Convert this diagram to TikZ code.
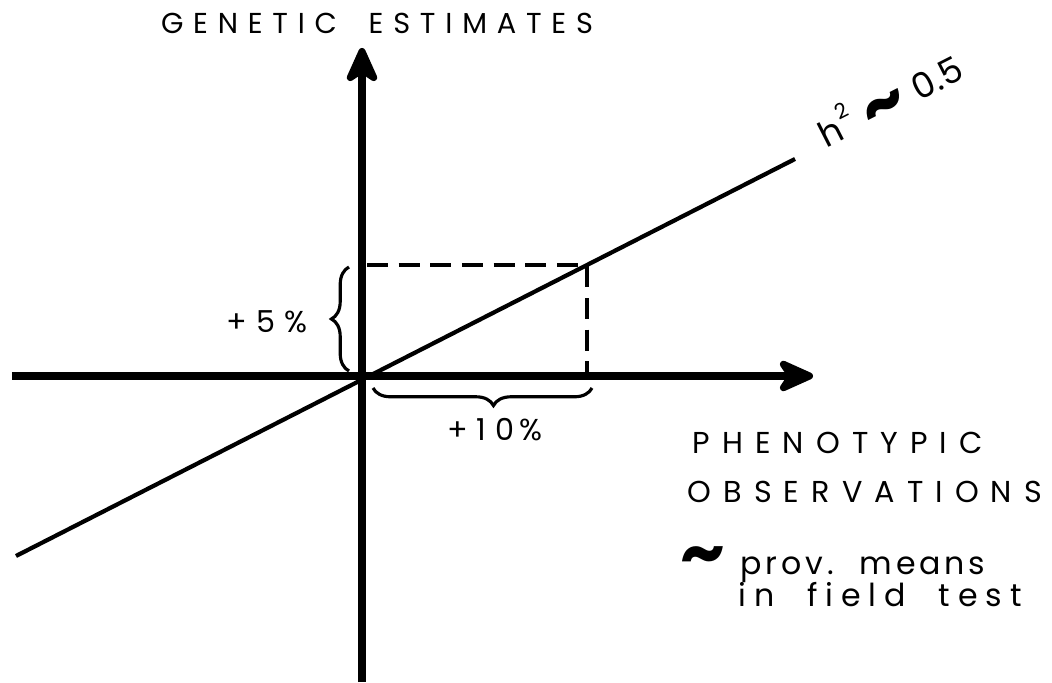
\documentclass[tikz,border=0pt]{standalone}
\usepackage{fontspec}
\setmainfont{Poppins}
\newfontfamily\spacedfont[LetterSpace=40]{Poppins}
\newfontfamily\headfont[LetterSpace=34]{Poppins}
\newfontfamily\lowfont[LetterSpace=12, WordSpace=1.8]{Poppins}
\newfontfamily\widelowfont[LetterSpace=25, WordSpace=2]{Poppins}
\newfontfamily\pctfont[LetterSpace=30]{Poppins}
\usetikzlibrary{arrows.meta, positioning, decorations.pathreplacing}

\tikzset{
  axisline/.style={line width=2pt, -{Stealth[length=4.4mm, width=3.9mm, inset=1.3mm, round]}},
  fitline/.style={line width=1.2pt},
  guideline/.style={line width=0.9pt, dash pattern=on 6pt off 3pt},
  bracemark/.style={decorate, decoration={brace, amplitude=5pt}, line width=0.9pt},
  caplabel/.style={font=\spacedfont\fontsize{8.6}{10}\selectfont, inner sep=0pt},
  headlabel/.style={font=\headfont\fontsize{8.2}{10}\selectfont, inner sep=0pt},
  lowlabel/.style={font=\lowfont\fontsize{9}{11}\selectfont, inner sep=0pt},
  pctlabel/.style={font=\pctfont\fontsize{8.6}{10}\selectfont, inner sep=0pt},
}
\newcommand{\bigtilde}{{\fontsize{20}{20}\bfseries\raisebox{-0.12em}{\textasciitilde}}}

\begin{document}
\begin{tikzpicture}
  \useasboundingbox (-3.62,-3.06) rectangle (6.90,3.76);
  % axes and the regression line
  \coordinate (origin) at (0,0);
  \coordinate (xstart) at (-3.50,0);
  \coordinate (xend) at (4.51,0);
  \coordinate (ybottom) at (0,-3.06);
  \coordinate (ytop) at (0,3.28);
  \coordinate (lowend) at (-3.46,-1.80);
  \coordinate (highend) at (4.33,2.17);
  \coordinate (corner) at (2.25,1.11);
  \draw[axisline] (xstart) -- (xend);
  \draw[axisline] (ybottom) -- (ytop);
  \draw[fitline] (lowend) -- (highend);
  \draw[guideline] ([xshift=0.5mm]origin |- corner) -- (corner) -- (corner |- origin);

  % braces
  \coordinate (vbrlow) at (-0.13,0.05);
  \coordinate (vbrhigh) at (-0.13,1.09);
  \coordinate (hbrright) at (2.30,-0.12);
  \coordinate (hbrleft) at (0.11,-0.12);
  \draw[bracemark] (vbrlow) -- (vbrhigh);
  \draw[bracemark, decoration={aspect=0.45}] (hbrright) -- (hbrleft);
  \node[pctlabel] (fivepct) at (-0.95,0.54) {+5\%};
  \node[pctlabel] (tenpct) at (1.33,-0.54) {+10\,\%};

  \node[headlabel] (genetic) at (0.15,3.53) {GENETIC\hspace{1.1em}ESTIMATES};
  \node[font=\fontsize{10}{12}\selectfont, inner sep=0pt, rotate=27, anchor=base west]
        (heritability) at (4.64,2.27)
        {h\hspace{0.05em}\raisebox{0.55em}{\fontsize{6}{6}\selectfont 2}\,\,\bigtilde\,\,0.5};
  \node[caplabel, anchor=west] (phenotypic) at (3.30,-0.67) {PHENOTYPIC};
  \node[caplabel, anchor=west] (observations) at (3.25,-1.16) {OBSERVATIONS};
  \node[inner sep=0pt] (approx) at (3.41,-1.86) {\bigtilde};
  \node[lowlabel, anchor=base west] (provmeans) at (3.78,-1.99) {prov. means};
  \node[lowlabel, font=\widelowfont\fontsize{9}{11}\selectfont, anchor=base west]
        (fieldtest) at (3.76,-2.31) {in field test};
\end{tikzpicture}
\end{document}
